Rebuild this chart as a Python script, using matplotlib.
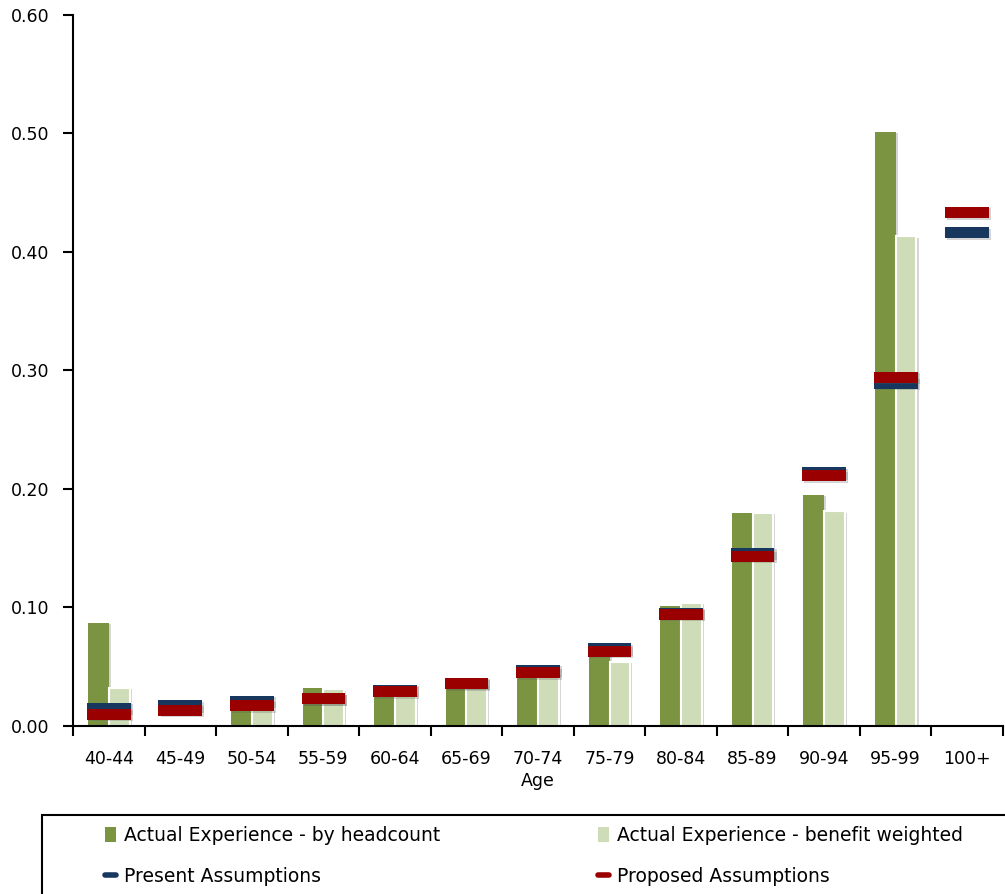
import numpy as np
import matplotlib
matplotlib.use("Agg")
import matplotlib.pyplot as plt
from matplotlib.patches import Patch, Rectangle
from matplotlib.lines import Line2D
import matplotlib.patheffects as pe

plt.rcParams['font.family'] = ['DejaVu Sans']

categories = ['40-44', '45-49', '50-54', '55-59', '60-64', '65-69', '70-74',
              '75-79', '80-84', '85-89', '90-94', '95-99', '100+']
headcount = [0.087, 0.0, 0.017, 0.032, 0.031, 0.036, 0.047, 0.062, 0.101,
             0.180, 0.195, 0.501, 0.0]
benefit = [0.032, 0.0, 0.014, 0.031, 0.028, 0.035, 0.044, 0.054, 0.104,
           0.180, 0.181, 0.413, 0.0]
present = [0.015, 0.017, 0.021, 0.023, 0.030, 0.036, 0.047, 0.065, 0.095,
           0.1455, 0.2135, 0.289, 0.416]
proposed = [0.010, 0.013, 0.017, 0.023, 0.029, 0.0355, 0.045, 0.063, 0.094,
            0.143, 0.211, 0.294, 0.433]
yticks = [0.0, 0.1, 0.2, 0.3, 0.4, 0.5, 0.6]

c_dark = '#7B9442'
c_light = '#CFDCB8'
c_blue = '#17375E'
c_red = '#9B0000'

fig = plt.figure(figsize=(10.05, 8.94), dpi=100)
ax = fig.add_axes([73/1005, 1-726/894, 930/1005, (726-14.6)/894])

x = np.arange(len(categories))
shadow = [pe.SimplePatchShadow(offset=(1.5, -1), alpha=0.25, shadow_rgbFace='0.35'), pe.Normal()]

bw = 0.29
b1 = ax.bar(x - bw/2, headcount, width=bw, color=c_dark, linewidth=0, zorder=2)
b2 = ax.bar(x + bw/2, benefit, width=bw, color=c_light, edgecolor='white',
            linewidth=1.5, zorder=2)
for b in list(b1) + list(b2):
    if b.get_height() > 0:
        b.set_path_effects(shadow)
    else:
        b.set_visible(False)

mh = 0.0093
mw = 0.61
pres = np.array(present)
prop = np.array(proposed)
m1 = ax.bar(x, mh, bottom=pres - mh/2, width=mw, color=c_blue, linewidth=0, zorder=3)
m2 = ax.bar(x, mh, bottom=prop - mh/2, width=mw, color=c_red, linewidth=0, zorder=4)
for b in list(m1) + list(m2):
    b.set_path_effects(shadow)

ax.set_xlim(-0.5, len(categories) - 0.5)
ax.set_ylim(0, 0.6)
ax.set_yticks(yticks)
ax.set_yticklabels([f'{v:.2f}' for v in yticks])
ax.set_xticks(np.arange(len(categories) + 1) - 0.5)
ax.set_xticklabels([])
ax.set_xticks(x, minor=True)
ax.set_xticklabels(categories, minor=True)
ax.tick_params(axis='x', which='minor', length=0, labelsize=12.5, pad=17)
ax.tick_params(axis='x', which='major', length=7, width=1.5, direction='out')
ax.tick_params(axis='y', length=7, width=1.5, direction='out', labelsize=12.5, pad=10)
for s in ['top', 'right']:
    ax.spines[s].set_visible(False)
for s in ['left', 'bottom']:
    ax.spines[s].set_linewidth(1.5)
ax.set_xlabel('Age', fontsize=12.5, labelpad=3)

# legend frame
fig.add_artist(Rectangle((42/1005, -0.05), 1.0, 0.05 + 1 - 815/894,
                         transform=fig.transFigure, fill=False,
                         edgecolor='black', linewidth=1.5, clip_on=False))

h_dark = Patch(facecolor=c_dark, edgecolor='none')
h_light = Patch(facecolor=c_light, edgecolor='none')
h_blue = Line2D([0], [0], color=c_blue, linewidth=4, solid_capstyle='round')
h_red = Line2D([0], [0], color=c_red, linewidth=4, solid_capstyle='round')

kw = dict(loc='upper left', frameon=False, fontsize=13.5, borderpad=0,
          borderaxespad=0, handlelength=0.6, handleheight=0.9,
          handletextpad=0.4, labelspacing=1.2)
fig.legend([h_dark, h_blue], ['Actual Experience - by headcount', 'Present Assumptions'],
           bbox_to_anchor=(105/1005, 1 - 826/894), **kw)
fig.legend([h_light, h_red], ['Actual Experience - benefit weighted', 'Proposed Assumptions'],
           bbox_to_anchor=(598/1005, 1 - 826/894), **kw)

fig.savefig('out.png', dpi=100)
